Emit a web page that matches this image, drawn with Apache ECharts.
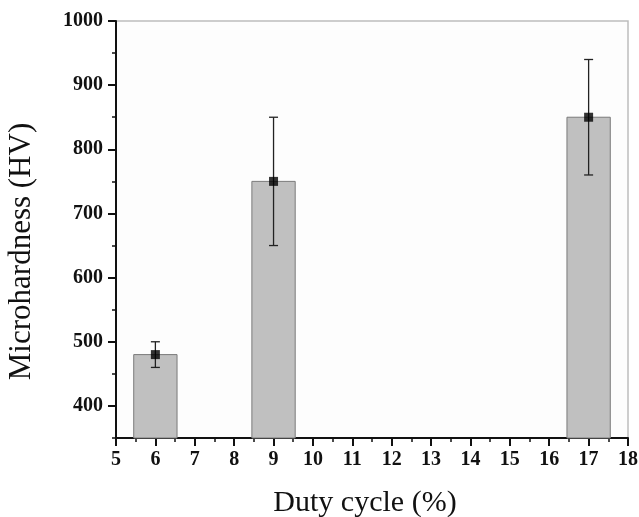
<!DOCTYPE html>
<html>
<head>
<meta charset="utf-8">
<script src="https://cdn.jsdelivr.net/npm/echarts@6/dist/echarts.min.js"></script>
<style>
html,body{margin:0;padding:0;background:#fff;}
#chart{width:639px;height:517px;}
</style>
</head>
<body>
<div id="chart"></div>
<script>
// Data
const dutyCycle = [6, 9, 17];
const hardness = [480, 750, 850];
const errLow = [460, 650, 760];
const errHigh = [500, 850, 940];
const xTicks = [5, 6, 7, 8, 9, 10, 11, 12, 13, 14, 15, 16, 17, 18];
const yTicks = [400, 500, 600, 700, 800, 900, 1000];

const Y_MIN = 350, Y_MAX = 1000;
const X_MIN = xTicks[0], X_MAX = xTicks[xTicks.length - 1];
const BAR_HALF = 0.55;

const barData = dutyCycle.map((x, i) => [x, hardness[i]]);
const errData = dutyCycle.map((x, i) => [x, errLow[i], errHigh[i]]);

const serif = "'Liberation Serif', 'Times New Roman', serif";

const chart = echarts.init(document.getElementById('chart'), null, {renderer: 'canvas'});

const option = {
  backgroundColor: '#ffffff',
  animation: false,
  grid: {
    left: 116, top: 21, right: 11, bottom: 79,
    containLabel: false, outerBoundsMode: 'none',
    show: true, borderColor: '#bdbdbd', borderWidth: 1.5, backgroundColor: '#fdfdfd'
  },
  xAxis: {
    type: 'value', min: X_MIN, max: X_MAX, interval: 1,
    name: 'Duty cycle (%)', nameLocation: 'middle', nameGap: 50,
    nameTextStyle: {fontFamily: serif, fontSize: 30, color: '#111', padding: [0, 14, 0, 0]},
    axisLine: {show: true, onZero: false, lineStyle: {color: '#111', width: 2}},
    axisTick: {show: true, length: 8, lineStyle: {color: '#111', width: 2}},
    minorTick: {show: true, splitNumber: 2, length: 4, lineStyle: {color: '#111', width: 1.5}},
    axisLabel: {fontFamily: serif, fontWeight: 'bold', fontSize: 20, color: '#111', margin: 12},
    splitLine: {show: false}
  },
  yAxis: [{
    type: 'value', min: Y_MIN, max: Y_MAX,
    name: 'Microhardness (HV)', nameLocation: 'middle', nameGap: 79,
    nameTextStyle: {fontFamily: serif, fontSize: 31, color: '#111', padding: [0, 44, 0, 0]},
    axisLine: {show: true, onZero: false, lineStyle: {color: '#111', width: 2}},
    axisTick: {show: true, length: 8, lineStyle: {color: '#111', width: 2}},
    axisLabel: {fontFamily: serif, fontWeight: 'bold', fontSize: 20, color: '#111', margin: 13,
      showMinLabel: false,
      formatter: v => (yTicks.indexOf(v) >= 0 ? String(v) : '')},
    splitLine: {show: false}
  }, {
    type: 'value', min: Y_MIN, max: Y_MAX, interval: 50, position: 'left',
    axisLine: {show: false},
    axisTick: {show: true, length: 4, lineStyle: {color: '#111', width: 1.5}},
    axisLabel: {show: false},
    splitLine: {show: false}
  }],
  series: [{
    type: 'custom',
    data: barData,
    z: 2,
    renderItem: function (params, api) {
      const x = api.value(0), v = api.value(1);
      const p1 = api.coord([x - BAR_HALF, v]);
      const p2 = api.coord([x + BAR_HALF, Y_MIN]);
      return {
        type: 'rect',
        shape: {x: p1[0], y: p1[1], width: p2[0] - p1[0], height: p2[1] - p1[1]},
        style: {fill: '#c0c0c0', stroke: '#7a7a7a', lineWidth: 1}
      };
    }
  }, {
    type: 'custom',
    data: errData,
    z: 3,
    renderItem: function (params, api) {
      const x = api.value(0);
      const lo = api.coord([x, api.value(1)]);
      const hi = api.coord([x, api.value(2)]);
      const cap = 4.5;
      const st = {stroke: '#222', lineWidth: 1.3};
      return {
        type: 'group',
        children: [
          {type: 'line', shape: {x1: lo[0], y1: lo[1], x2: hi[0], y2: hi[1]}, style: st},
          {type: 'line', shape: {x1: lo[0] - cap, y1: lo[1], x2: lo[0] + cap, y2: lo[1]}, style: st},
          {type: 'line', shape: {x1: hi[0] - cap, y1: hi[1], x2: hi[0] + cap, y2: hi[1]}, style: st}
        ]
      };
    }
  }, {
    type: 'scatter',
    data: barData,
    symbol: 'rect', symbolSize: 9,
    itemStyle: {color: '#000'},
    z: 4
  }]
};
chart.setOption(option);
</script>
</body>
</html>
